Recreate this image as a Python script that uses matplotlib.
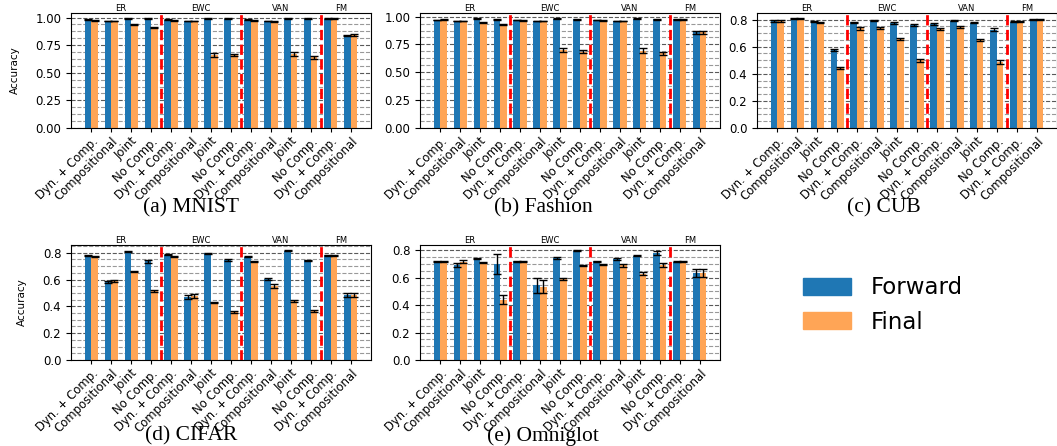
import numpy as np
import matplotlib
matplotlib.use('Agg')
from matplotlib import pyplot as plt
from matplotlib.ticker import AutoMinorLocator, MultipleLocator
from matplotlib.patches import Patch

# methods per algorithm: ER, EWC, VAN (4 each) and FM (2)
methods = ['Dyn. + Comp.', 'Compositional', 'Joint', 'No Comp.'] * 3 + ['Dyn. + Comp.', 'Compositional']
algos = ['ER', 'EWC', 'VAN', 'FM']
algo_centers = [1.5, 5.5, 9.5, 12.5]
separators = [3.5, 7.5, 11.5]

mnist_fwd = [0.98, 0.97, 0.99, 0.99, 0.98, 0.97, 0.99, 0.99, 0.98, 0.97, 0.99, 0.99, 0.99, 0.84]
mnist_fin = [0.975, 0.97, 0.94, 0.91, 0.975, 0.97, 0.66, 0.66, 0.975, 0.965, 0.67, 0.64, 0.99, 0.84]
mnist_fwd_err = [0.003, 0.003, 0.002, 0.002, 0.003, 0.003, 0.002, 0.002, 0.003, 0.003, 0.002, 0.002, 0.002, 0.005]
mnist_fin_err = [0.003, 0.003, 0.004, 0.005, 0.003, 0.003, 0.015, 0.01, 0.003, 0.003, 0.015, 0.015, 0.002, 0.008]

fashion_fwd = [0.97, 0.96, 0.98, 0.975, 0.97, 0.96, 0.98, 0.975, 0.97, 0.96, 0.98, 0.975, 0.975, 0.86]
fashion_fin = [0.97, 0.96, 0.95, 0.93, 0.965, 0.96, 0.70, 0.685, 0.965, 0.96, 0.695, 0.67, 0.975, 0.86]
fashion_fwd_err = [0.003, 0.003, 0.003, 0.003, 0.003, 0.003, 0.003, 0.003, 0.003, 0.003, 0.003, 0.003, 0.003, 0.012]
fashion_fin_err = [0.004, 0.003, 0.004, 0.005, 0.003, 0.003, 0.015, 0.012, 0.003, 0.003, 0.02, 0.015, 0.003, 0.012]

cub_fwd = [0.79, 0.805, 0.785, 0.575, 0.78, 0.79, 0.775, 0.76, 0.77, 0.79, 0.775, 0.725, 0.785, 0.80]
cub_fin = [0.79, 0.805, 0.775, 0.44, 0.735, 0.735, 0.655, 0.50, 0.73, 0.745, 0.65, 0.49, 0.785, 0.80]
cub_fwd_err = [0.008, 0.003, 0.005, 0.008, 0.004, 0.004, 0.006, 0.008, 0.008, 0.004, 0.004, 0.01, 0.003, 0.003]
cub_fin_err = [0.006, 0.003, 0.004, 0.008, 0.01, 0.008, 0.006, 0.012, 0.008, 0.008, 0.008, 0.015, 0.003, 0.003]

cifar_fwd = [0.78, 0.58, 0.81, 0.735, 0.785, 0.47, 0.795, 0.745, 0.77, 0.605, 0.815, 0.745, 0.78, 0.485]
cifar_fin = [0.775, 0.59, 0.66, 0.515, 0.775, 0.48, 0.43, 0.36, 0.735, 0.55, 0.44, 0.365, 0.78, 0.485]
cifar_fwd_err = [0.004, 0.008, 0.003, 0.008, 0.004, 0.012, 0.003, 0.005, 0.005, 0.006, 0.002, 0.003, 0.004, 0.015]
cifar_fin_err = [0.004, 0.005, 0.004, 0.008, 0.004, 0.015, 0.004, 0.008, 0.004, 0.015, 0.006, 0.01, 0.004, 0.015]

omni_fwd = [0.72, 0.695, 0.74, 0.70, 0.72, 0.545, 0.745, 0.795, 0.72, 0.735, 0.76, 0.78, 0.715, 0.635]
omni_fin = [0.72, 0.715, 0.71, 0.44, 0.72, 0.535, 0.59, 0.69, 0.695, 0.69, 0.63, 0.69, 0.715, 0.635]
omni_fwd_err = [0.004, 0.015, 0.004, 0.075, 0.003, 0.055, 0.008, 0.003, 0.003, 0.01, 0.003, 0.012, 0.003, 0.03]
omni_fin_err = [0.004, 0.01, 0.003, 0.035, 0.003, 0.05, 0.01, 0.003, 0.003, 0.01, 0.008, 0.015, 0.003, 0.03]

panels = [
    ('(a) MNIST', mnist_fwd, mnist_fin, mnist_fwd_err, mnist_fin_err, 0.25),
    ('(b) Fashion', fashion_fwd, fashion_fin, fashion_fwd_err, fashion_fin_err, 0.25),
    ('(c) CUB', cub_fwd, cub_fin, cub_fwd_err, cub_fin_err, 0.2),
    ('(d) CIFAR', cifar_fwd, cifar_fin, cifar_fwd_err, cifar_fin_err, 0.2),
    ('(e) Omniglot', omni_fwd, omni_fin, omni_fwd_err, omni_fin_err, 0.2),
]

blue = '#1f77b4'
orange = '#ffa556'
W, H = 1057, 446

fig = plt.figure(figsize=(W / 100, H / 100), dpi=100)

# axes boxes in pixels: left, top ; caption x centre
lefts = [71, 420, 757]
tops = [13, 245]
cap_x = [191, 543, 884]
cap_y = [208, 436]
ax_w, ax_h = 300, 115

width = 0.33
x = np.arange(len(methods))

for k, (title, fwd, fin, fwd_err, fin_err, step) in enumerate(panels):
    r, c = divmod(k, 3)
    ax = fig.add_axes([lefts[c] / W, 1 - (tops[r] + ax_h) / H, ax_w / W, ax_h / H])
    ax.set_axisbelow(True)
    ax.bar(x - width / 2, fwd, width, color=blue, yerr=fwd_err, capsize=3,
           error_kw=dict(ecolor='black', elinewidth=1, capthick=1))
    ax.bar(x + width / 2, fin, width, color=orange, yerr=fin_err, capsize=3,
           error_kw=dict(ecolor='black', elinewidth=1, capthick=1))
    for s in separators:
        ax.axvline(s, color='red', ls='--', lw=2)
    ax.yaxis.set_major_locator(MultipleLocator(step))
    ax.yaxis.set_minor_locator(AutoMinorLocator(4))
    ax.grid(axis='y', which='major', ls='--', color='0.35', lw=0.8)
    ax.grid(axis='y', which='minor', ls='--', color='0.6', lw=0.8)
    ax.tick_params(axis='y', which='minor', length=0)
    ax.tick_params(axis='y', labelsize=8.5)
    ax.set_xticks(x)
    ax.set_xticklabels(methods, rotation=45, ha='right', rotation_mode='anchor', fontsize=8.4)
    ax.tick_params(axis='x', length=3, pad=2)
    for name, cx in zip(algos, algo_centers):
        ax.text(cx, 1.0, name, transform=ax.get_xaxis_transform(), ha='center', va='bottom', fontsize=6)
    if c == 0:
        ax.set_ylabel('Accuracy', fontsize=7.5, labelpad=11)
    fig.text(cap_x[c] / W, 1 - cap_y[r] / H, title, ha='center', va='center',
             fontsize=15.5, family='Liberation Serif')

handles = [Patch(color=blue, label='Forward'), Patch(color=orange, label='Final')]
fig.legend(handles=handles, loc='center', bbox_to_anchor=(883 / W, 1 - 305 / H), frameon=False,
           fontsize=16.5, handlelength=2.1, handleheight=0.75, handletextpad=0.85)

fig.savefig('out.png', dpi=100)
